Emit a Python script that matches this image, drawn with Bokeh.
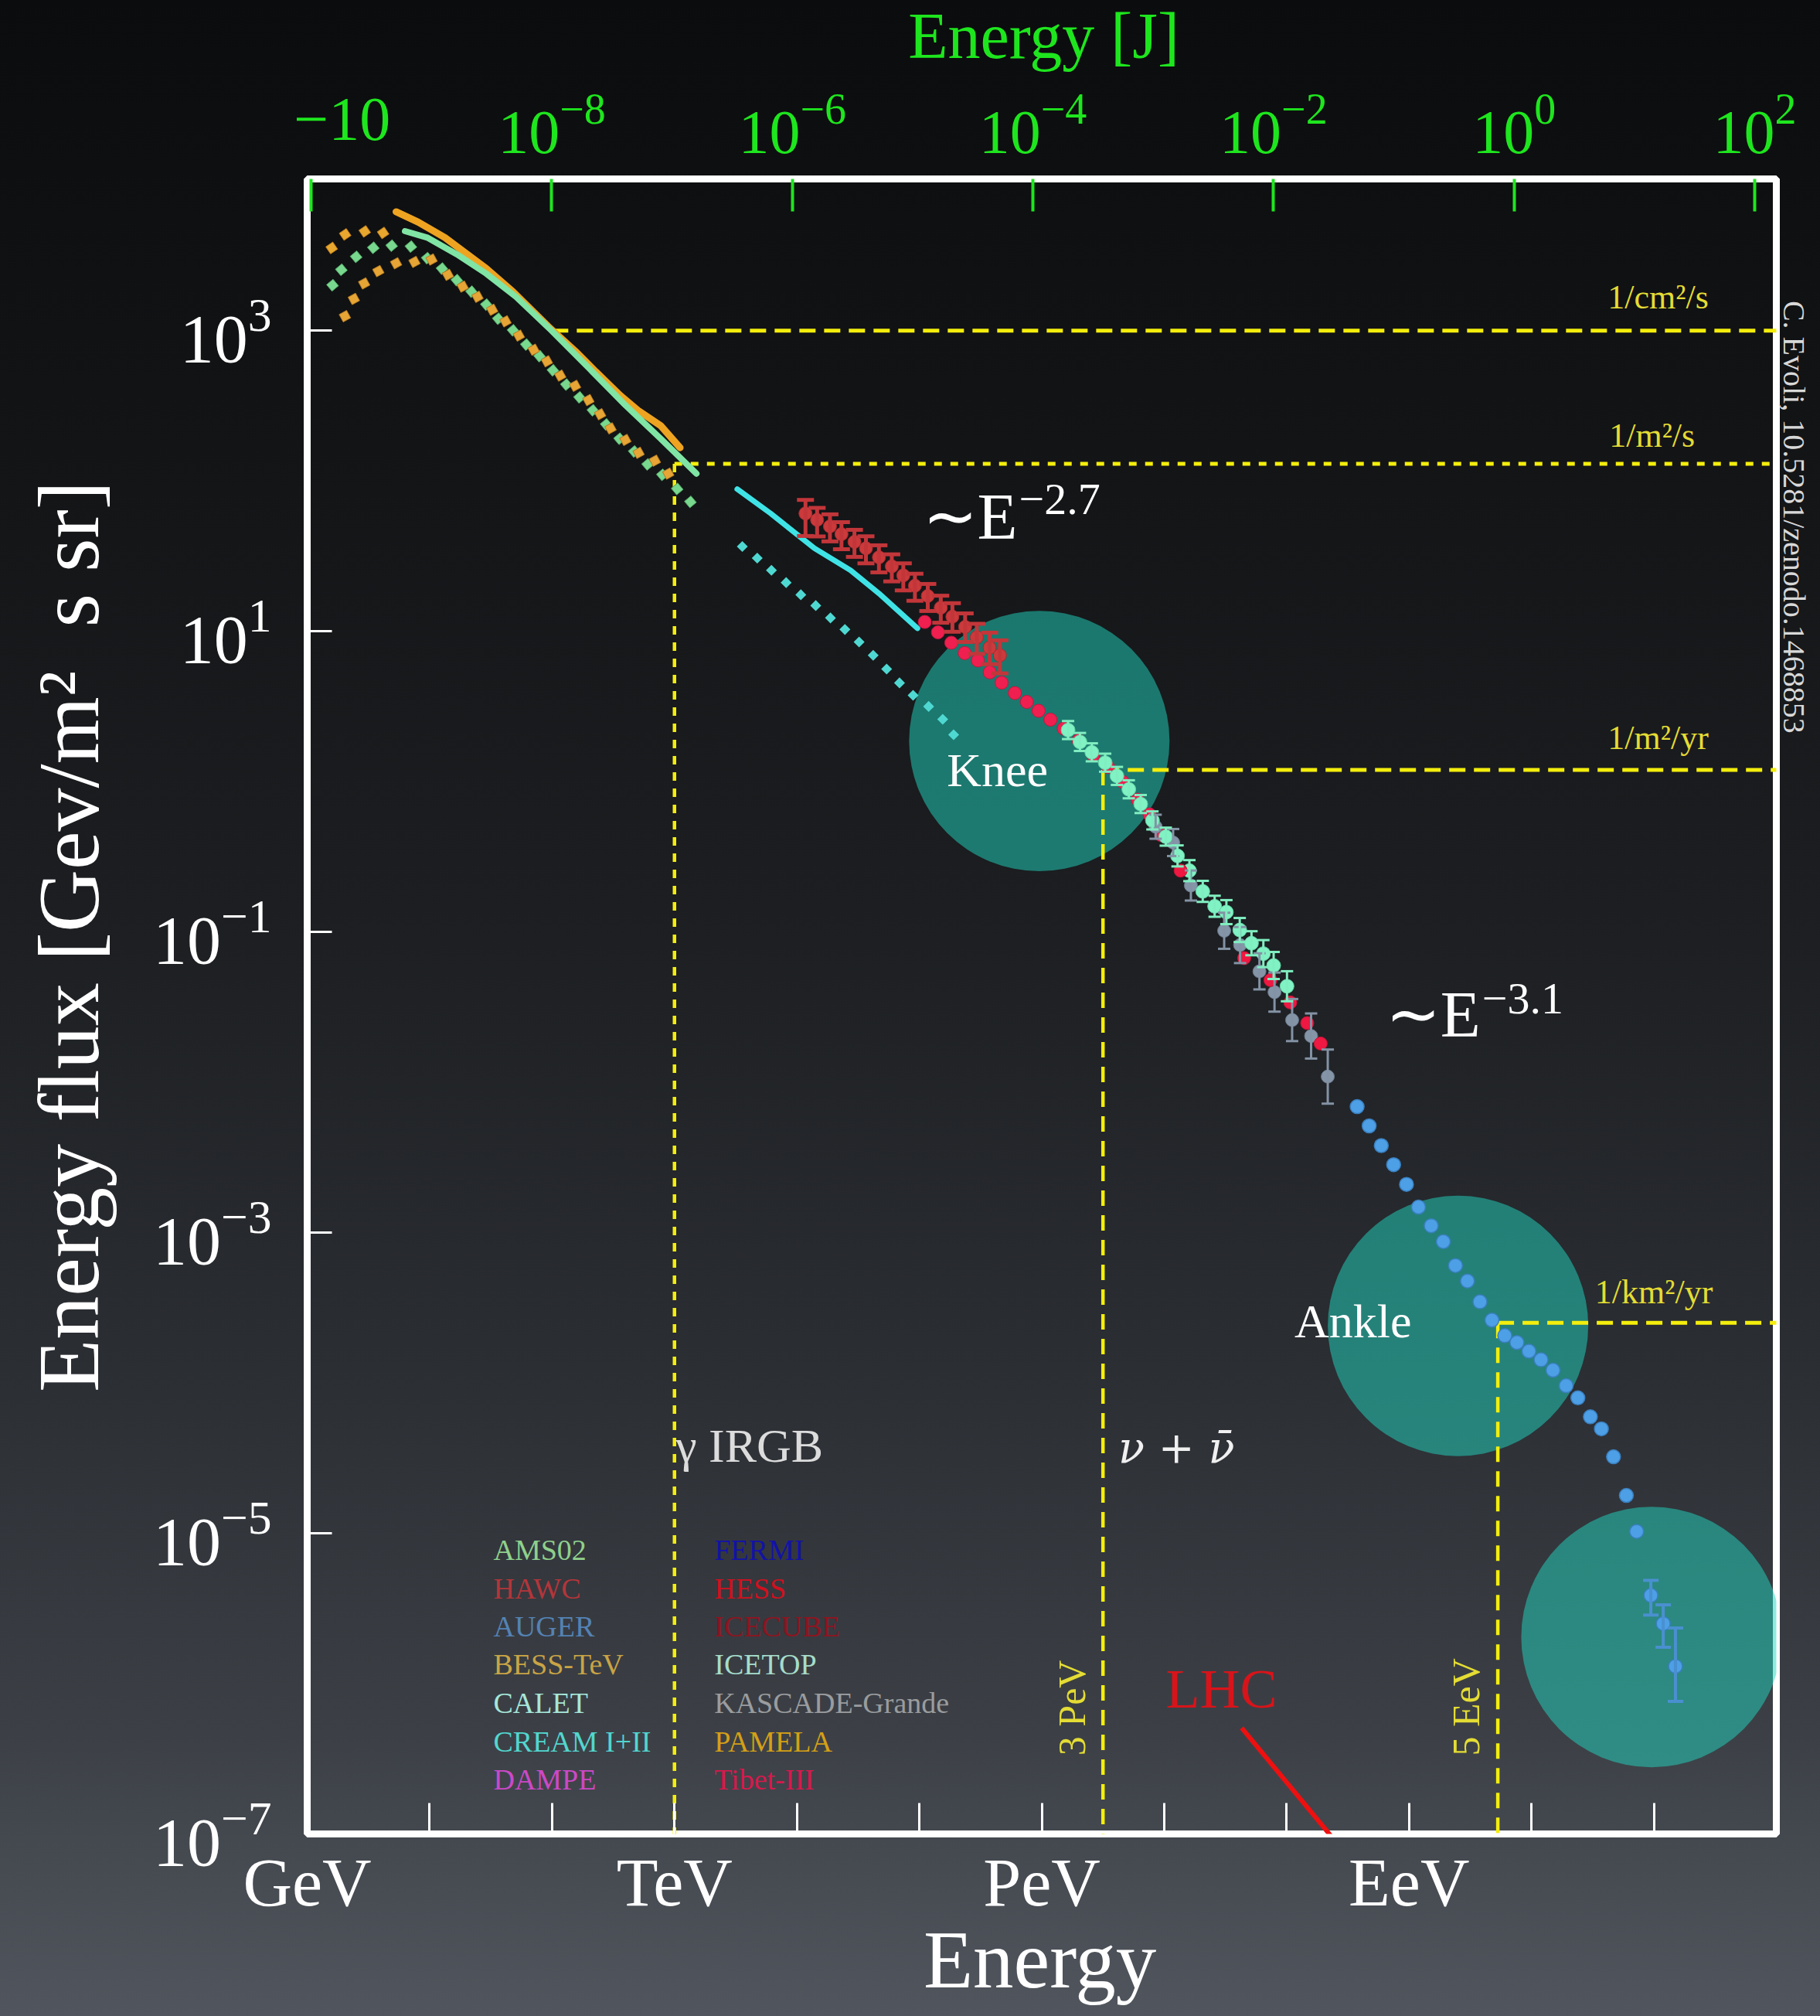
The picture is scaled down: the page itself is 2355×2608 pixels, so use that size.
import numpy as np
from bokeh.plotting import figure
from bokeh.models import (Range1d, LogScale, LogAxis, FixedTicker, CustomJSTickFormatter,
                          Label, Whisker, TeeHead, ColumnDataSource, GlobalInlineStyleSheet)
from bokeh.embed import file_html
from bokeh.resources import INLINE

# ---------------- data: log10(E / GeV) and log10(E^2 flux / GeV m^-2 s^-1 sr^-1) ----------------
bess_dots_lx = [0.20, 0.31, 0.47, 0.62]
bess_dots_ly = [3.55, 3.64, 3.66, 3.65]

ams_dots_lx = [0.207, 0.279, 0.400, 0.540, 0.690, 0.847, 0.980, 1.101, 1.222, 1.342, 1.463, 1.560, 1.681,
               1.789, 1.898, 2.007, 2.116, 2.224, 2.333, 2.442, 2.551, 2.671, 2.780, 2.901, 3.022, 3.130]
ams_dots_ly = [3.302, 3.405, 3.491, 3.551, 3.565, 3.559, 3.482, 3.413, 3.336, 3.259, 3.173, 3.079, 3.002,
               2.907, 2.830, 2.736, 2.641, 2.556, 2.470, 2.376, 2.281, 2.196, 2.110, 2.041, 1.947, 1.861]

pamela_dots_lx = [0.308, 0.381, 0.465, 0.581, 0.726, 0.876, 1.016, 1.149, 1.270, 1.391, 1.511, 1.620,
                  1.729, 1.850, 1.958, 2.067, 2.188, 2.297, 2.393, 2.478, 2.599, 2.707, 2.840, 2.949]
pamela_dots_ly = [3.096, 3.211, 3.314, 3.396, 3.448, 3.457, 3.473, 3.371, 3.293, 3.225, 3.139, 3.062,
                  2.967, 2.873, 2.796, 2.701, 2.633, 2.538, 2.444, 2.350, 2.273, 2.187, 2.135, 2.049]

pamela_line_lx = [0.726, 0.907, 1.125, 1.294, 1.463, 1.681, 1.970, 2.188, 2.357, 2.551, 2.700, 2.888, 3.046]
pamela_line_ly = [3.791, 3.722, 3.619, 3.516, 3.413, 3.259, 3.027, 2.865, 2.727, 2.573, 2.470, 2.367, 2.221]

ams_line_lx = [0.799, 0.980, 1.222, 1.463, 1.705, 1.994, 2.309, 2.599, 2.888, 3.179]
ams_line_ly = [3.662, 3.619, 3.508, 3.379, 3.225, 3.002, 2.744, 2.504, 2.281, 2.049]

cream_line_lx = [3.512, 3.786, 4.143, 4.438, 4.670, 4.985]
cream_line_ly = [1.946, 1.784, 1.552, 1.406, 1.252, 1.020]

calet_dots_lx = [3.554, 3.676, 3.792, 3.912, 4.032, 4.154, 4.274, 4.392, 4.508, 4.623, 4.733, 4.838,
                 4.949, 5.076, 5.191, 5.280]
calet_dots_ly = [1.564, 1.487, 1.406, 1.324, 1.243, 1.171, 1.089, 1.012, 0.929, 0.840, 0.749, 0.657,
                 0.574, 0.500, 0.415, 0.312]

hawc_lx = [4.070, 4.165, 4.270, 4.364, 4.470, 4.564, 4.670, 4.775, 4.869, 4.964, 5.069, 5.175, 5.270,
           5.374, 5.469, 5.574, 5.658]
hawc_ly = [1.784, 1.741, 1.698, 1.646, 1.595, 1.552, 1.492, 1.432, 1.372, 1.303, 1.235, 1.157, 1.097,
           1.029, 0.960, 0.891, 0.840]
hawc_up = [0.09, 0.08, 0.08, 0.08, 0.08, 0.08, 0.08, 0.08, 0.08, 0.08, 0.08, 0.08, 0.09, 0.09, 0.09, 0.10, 0.10]
hawc_lo = [0.15, 0.11, 0.10, 0.10, 0.10, 0.10, 0.10, 0.10, 0.10, 0.10, 0.10, 0.10, 0.10, 0.10, 0.11, 0.11, 0.12]

tibet_lx = [5.044, 5.152, 5.261, 5.370, 5.478, 5.575, 5.672, 5.780, 5.878, 5.974, 6.071, 6.179, 6.300,
            6.421, 6.542, 6.662, 6.783, 6.880, 6.976]
tibet_ly = [1.062, 0.993, 0.924, 0.855, 0.806, 0.727, 0.658, 0.589, 0.530, 0.471, 0.412, 0.353, 0.274,
            0.175, 0.097, -0.002, -0.120, -0.218, -0.356]

icecube_lx = [7.134, 7.653, 7.868, 8.030, 8.168, 8.278]
icecube_ly = [-0.592, -1.174, -1.320, -1.469, -1.606, -1.742]

icetop_lx = [6.215, 6.312, 6.409, 6.518, 6.614, 6.711, 6.808, 6.904, 7.013, 7.109, 7.206, 7.315, 7.412,
             7.508, 7.617, 7.713, 7.810, 7.894, 8.003]
icetop_ly = [0.343, 0.264, 0.195, 0.126, 0.038, -0.051, -0.149, -0.258, -0.366, -0.494, -0.592, -0.730,
             -0.829, -0.868, -0.987, -1.075, -1.144, -1.223, -1.361]
icetop_err = [0.06, 0.06, 0.06, 0.06, 0.06, 0.06, 0.06, 0.06, 0.06, 0.07, 0.07, 0.07, 0.07, 0.08, 0.08,
              0.08, 0.09, 0.09, 0.10]

kascade_lx = [6.930, 7.073, 7.218, 7.490, 7.620, 7.778, 7.901, 8.045, 8.200, 8.336]
kascade_ly = [-0.300, -0.405, -0.691, -0.992, -1.087, -1.262, -1.400, -1.586, -1.692, -1.962]
kascade_err = [0.08, 0.09, 0.10, 0.12, 0.12, 0.12, 0.13, 0.14, 0.15, 0.18]

auger_lx = [8.576, 8.674, 8.773, 8.874, 8.979, 9.077, 9.181, 9.280, 9.379, 9.477, 9.579, 9.677, 9.782,
            9.881, 9.979, 10.078, 10.176, 10.283, 10.379, 10.481, 10.571, 10.670, 10.775, 10.859]
auger_ly = [-2.162, -2.290, -2.421, -2.548, -2.679, -2.830, -2.954, -3.060, -3.219, -3.322, -3.460,
            -3.582, -3.685, -3.731, -3.789, -3.846, -3.915, -4.018, -4.099, -4.225, -4.305, -4.491,
            -4.748, -4.988]
auger_hi_lx = [10.975, 11.076, 11.176]
auger_hi_ly = [-5.413, -5.601, -5.885]
auger_hi_top = [-5.313, -5.476, -5.630]
auger_hi_bot = [-5.544, -5.758, -6.118]

# highlighted regions (knee, ankle, cut-off)
region_lx = [5.98, 9.40, 10.98]
region_ly = [0.27, -3.62, -5.69]

# reference flux levels
level_names = ["1/cm\u00b2/s", "1/m\u00b2/s", "1/m\u00b2/yr", "1/km\u00b2/yr"]
level_ly = [3.0, 2.114, 0.078, -3.60]
level_start_lx = [2.0, 3.0, 6.5, 9.725]
level_dash = ["21 11", "10 11", "21 11", "21 11"]
vline_lx = [3.0, 6.5, 9.725]
vline_top_ly = [2.114, 0.078, -3.60]
vline_dash = ["11 10", "20 12", "20 12"]

lhc_lx = [7.633, 8.45]
lhc_ly = [-6.295, -7.10]

bottom_tick_exps = [0, 3, 6, 9]
bottom_tick_names = ["GeV", "TeV", "PeV", "EeV"]
joule_ticks = [1e-10, 1e-8, 1e-6, 1e-4, 1e-2, 1e0, 1e2]

legend_left = [("AMS02", "#8fd08c"), ("HAWC", "#b3353a"), ("AUGER", "#5482b4"), ("BESS-TeV", "#c9a445"),
               ("CALET", "#a6e6da"), ("CREAM I+II", "#52d6cf"), ("DAMPE", "#cc48c8")]
legend_right = [("FERMI", "#1212a8"), ("HESS", "#d0101e"), ("ICECUBE", "#8e1420"), ("ICETOP", "#a6dccb"),
                ("KASCADE-Grande", "#9a9c9e"), ("PAMELA", "#d49f16"), ("Tibet-III", "#d8184c")]

# ---------------- figure ----------------
W, H = 2355, 2608
FL, FR, FT, FB = 397, 2298, 231, 2372
PX_PER_DEC_Y = 194.3
SERIF = "Liberation Serif"
YEL = "#f4ee0c"
GREEN = "#1ee61e"

def a(v):
    return 10 ** np.asarray(v, dtype=float)

p = figure(width=W, height=H, x_axis_type="log", y_axis_type="log",
           x_range=Range1d(1.0, 1e12), y_range=Range1d(1e-7, 10 ** 4.009),
           output_backend="svg", toolbar_location=None,
           min_border_left=FL, min_border_right=W - FR, min_border_top=FT, min_border_bottom=H - FB,
           background_fill_color=None, border_fill_color=None,
           outline_line_color="white", outline_line_width=9)
p.grid.visible = False

css = ("html, body {margin:0; padding:0; overflow:hidden; "
       "background: linear-gradient(to bottom, #0b0c0d 0%, #131416 22%, #1c1e21 45%, #2b2e33 68%, "
       "#3c4046 86%, #51565e 100%); min-height:100vh;}")
p.stylesheets = [GlobalInlineStyleSheet(css=css)]

# bottom axis (GeV ... EeV)
xa = p.xaxis[0]
xa.ticker = FixedTicker(ticks=[10.0 ** k for k in range(0, 12)])
xa.formatter = CustomJSTickFormatter(args=dict(exps=bottom_tick_exps, names=bottom_tick_names), code="""
    const e = Math.round(Math.log10(tick));
    const i = exps.indexOf(e);
    return i >= 0 ? names[i] : "";
""")
xa.axis_line_color = None
xa.major_tick_in = 40
xa.major_tick_out = 0
xa.major_tick_line_color = "white"
xa.major_tick_line_width = 3
xa.minor_tick_line_color = None
xa.major_label_text_color = "white"
xa.major_label_text_font = SERIF
xa.major_label_text_font_size = "88px"
xa.major_label_standoff = 14

# left axis
ya = p.yaxis[0]
ya.ticker = FixedTicker(ticks=[1e-7, 1e-5, 1e-3, 1e-1, 1e1, 1e3])
ya.axis_line_color = None
ya.major_tick_in = 32
ya.major_tick_out = 0
ya.major_tick_line_color = "white"
ya.major_tick_line_width = 3
ya.minor_tick_line_color = None
ya.major_label_text_color = "white"
ya.major_label_text_font = SERIF
ya.major_label_text_font_size = "88px"
ya.major_label_standoff = 46

# top axis in joules
p.extra_x_ranges = {"J": Range1d(10 ** -10.033, 10 ** 2.18)}
p.extra_x_scales = {"J": LogScale()}
ta = LogAxis(x_range_name="J", ticker=FixedTicker(ticks=joule_ticks))
ta.axis_line_color = None
ta.major_tick_in = 42
ta.major_tick_out = 0
ta.major_tick_line_color = GREEN
ta.major_tick_line_width = 4
ta.minor_tick_line_color = None
ta.major_label_text_color = GREEN
ta.major_label_text_font = SERIF
ta.major_label_text_font_size = "80px"
ta.major_label_standoff = 34
# the leftmost label is cropped in the original: only its exponent shows
ta.major_label_overrides = {1e-10: "\u00a0\u00a0\u00a0\u00a0\u221210"}
p.add_layout(ta, "above")

# highlighted regions
p.scatter(a(region_lx), a(region_ly), marker="circle", size=337, fill_color="#20d8c2", fill_alpha=0.5,
          line_color=None)

# reference flux levels (yellow dashed)
for lx0, ly0, dash in zip(level_start_lx, level_ly, level_dash):
    p.line(a([lx0, 12.2]), a([ly0, ly0]), line_color=YEL, line_width=5, line_dash=dash)
for lx0, ly0, dash in zip(vline_lx, vline_top_ly, vline_dash):
    p.line(a([lx0, lx0]), a([ly0, -7.2]), line_color=YEL, line_width=4.5, line_dash=dash)

# LHC
p.line(a(lhc_lx), a(lhc_ly), line_color="#ee1010", line_width=6)

# low-energy data
p.scatter(a(bess_dots_lx), a(bess_dots_ly), marker="square", size=11, angle=0.6,
          fill_color="#e8a72e", line_color="#b77a1a", line_width=1)
p.scatter(a(ams_dots_lx), a(ams_dots_ly), marker="square", size=11, angle=0.7,
          fill_color="#78d88e", line_color="#4e9f62", line_width=1)
p.scatter(a(pamela_dots_lx), a(pamela_dots_ly), marker="square", size=11, angle=0.5,
          fill_color="#e6a535", line_color="#b37a20", line_width=1)
p.line(a(pamela_line_lx), a(pamela_line_ly), line_color="#eea421", line_width=9, line_cap="round")
p.line(a(ams_line_lx), a(ams_line_ly), line_color="#80e4a4", line_width=8, line_cap="round")
p.line(a(cream_line_lx), a(cream_line_ly), line_color="#3fe3e6", line_width=7, line_cap="round")
p.scatter(a(calet_dots_lx), a(calet_dots_ly), marker="square", size=10, angle=0.785,
          fill_color="#4fd8d2", line_color=None)

def errbars(lx, ly, up, lo, color, cap, width):
    src = ColumnDataSource(dict(x=a(lx), upper=a(np.add(ly, up)), lower=a(np.subtract(ly, lo))))
    p.add_layout(Whisker(source=src, base="x", upper="upper", lower="lower", dimension="height",
                         line_color=color, line_width=width, level="glyph",
                         upper_head=TeeHead(size=cap, line_color=color, line_width=width),
                         lower_head=TeeHead(size=cap, line_color=color, line_width=width)))

errbars(hawc_lx, hawc_ly, hawc_up, hawc_lo, "#c2363a", 22, 5)
p.scatter(a(hawc_lx), a(hawc_ly), marker="circle", size=17, fill_color="#cc3a3c", line_color="#a82a2e")

p.scatter(a(tibet_lx), a(tibet_ly), marker="circle", size=17, fill_color="#ef1f4f", line_color="#c01840")
errbars(kascade_lx, kascade_ly, kascade_err, kascade_err, "#8392a4", 16, 3)
p.scatter(a(kascade_lx), a(kascade_ly), marker="circle", size=17, fill_color="#8595a8", line_color="#6a788a")
errbars(icetop_lx, icetop_ly, icetop_err, icetop_err, "#80eec0", 16, 3)
p.scatter(a(icetop_lx), a(icetop_ly), marker="circle", size=18, fill_color="#80f2c4", line_color="#60cfa2")
p.scatter(a(icecube_lx), a(icecube_ly), marker="circle", size=17, fill_color="#ee1842", line_color="#c01535")

p.scatter(a(auger_lx), a(auger_ly), marker="circle", size=18, fill_color="#4d9fe6", line_color="#3a7fbe",
          line_width=1.5)
src_hi = ColumnDataSource(dict(x=a(auger_hi_lx), upper=a(auger_hi_top), lower=a(auger_hi_bot)))
p.add_layout(Whisker(source=src_hi, base="x", upper="upper", lower="lower", dimension="height",
                     line_color="#4a90d0", line_width=4, level="glyph",
                     upper_head=TeeHead(size=20, line_color="#4a90d0", line_width=4),
                     lower_head=TeeHead(size=20, line_color="#4a90d0", line_width=4)))
p.scatter(a(auger_hi_lx), a(auger_hi_ly), marker="circle", size=18, fill_color="#4d9fe6", line_color="#3a7fbe",
          line_width=1.5)

# ---------------- text ----------------
def lab(lx, ly, text, size, color, align="left", baseline="alphabetic", angle=0.0, style="normal",
        place="center", font=SERIF):
    if baseline == "alphabetic":
        ly = ly + 0.37 * size / PX_PER_DEC_Y   # compensate renderer baseline offset
    lbl = Label(x=10 ** lx, y=10 ** ly, text=text, text_font_size=f"{size}px", text_color=color,
                text_align=align, text_baseline=baseline, angle=angle, text_font=font,
                text_font_style=style)
    p.add_layout(lbl, place)

# titles outside the frame (placed in side panels so that they are not clipped)
lab(5.985, -8.04, "Energy", 105, "white", align="center", place="below")
lab(-1.95, -1.03, "Energy flux [Gev/m\u00b2\u00a0 s sr]", 112, "white", align="center", baseline="middle",
    angle=np.pi / 2, place="left")
lab(6.016, 4.801, "Energy [J]", 84, GREEN, align="center", place="above")
lab(12.146, 1.76, "C. Evoli, 10.5281/zenodo.1468853", 40, "#d8d8d8", align="center", baseline="middle",
    angle=-np.pi / 2, place="right")

# flux level labels
level_label_lx = [11.035, 10.985, 11.035, 11.0]
level_label_ly = [3.139, 2.218, 0.205, -3.48]
for name, lx0, ly0 in zip(level_names, level_label_lx, level_label_ly):
    lab(lx0, ly0, name, 44, "#e4dc34", align="center")
lab(6.244, -6.161, "3 PeV", 50, "#e4dc34", align="center", baseline="middle", angle=np.pi / 2)
lab(9.463, -6.156, "5 EeV", 50, "#e4dc34", align="center", baseline="middle", angle=np.pi / 2)

# annotations
lab(5.025, 1.605, "\u223cE", 85, "white")
lab(5.814, 1.765, "\u22122.7", 58, "white")
lab(8.807, -1.709, "\u223cE", 85, "white")
lab(9.596, -1.555, "\u22123.1", 58, "white")
lab(5.638, -0.042, "Knee", 62, "white", align="center")
lab(8.542, -3.706, "Ankle", 62, "white", align="center")
lab(3.612, -4.535, "\u03b3 IRGB", 62, "#dcdcdc", align="center")
lab(7.10, -4.535, "\u03bd + \u03bd\u0304", 56, "#f0f0f0", align="center", style="italic", font="DejaVu Serif")
lab(7.468, -6.171, "LHC", 72, "#d8141a", align="center")

# legend (coloured names)
legend_ly = [-5.182, -5.439, -5.691, -5.945, -6.202, -6.460, -6.709]
for (name, col), ly0 in zip(legend_left, legend_ly):
    lab(1.521, ly0, name, 38, col)
for (name, col), ly0 in zip(legend_right, legend_ly):
    lab(3.325, ly0, name, 38, col)

open("out.html", "w").write(file_html(p, INLINE))
